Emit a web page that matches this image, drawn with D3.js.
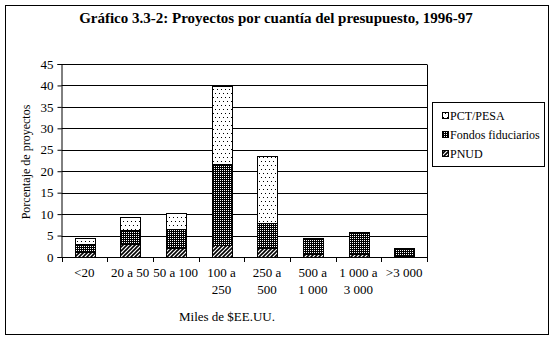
<!DOCTYPE html>
<html><head><meta charset="utf-8">
<script src="https://cdn.jsdelivr.net/npm/d3@7"></script>
<style>body{margin:0;background:#fff}svg{display:block}</style>
</head><body>
<script>
const categories = ["<20","20 a 50","50 a 100","100 a 250","250 a 500","500 a 1 000","1 000 a 3 000",">3 000"];
const categoryLines = [["<20"],["20 a 50"],["50 a 100"],["100 a","250"],["250 a","500"],["500 a","1 000"],["1 000 a","3 000"],[">3 000"]];
const seriesNames = ["PNUD","Fondos fiduciarios","PCT/PESA"];
const pnud = [1.2, 3.1, 2.2, 2.9, 2.0, 0.8, 0.8, 0.2];
const fondos = [1.8, 3.2, 4.3, 18.8, 6.0, 3.7, 5.1, 2.0];
const pctPesa = [1.4, 3.0, 3.7, 18.2, 15.6, 0, 0, 0];
const yTicks = [0,5,10,15,20,25,30,35,40,45];
const title = "Gráfico 3.3-2: Proyectos por cuantía del presupuesto, 1996-97";
const yLabel = "Porcentaje de proyectos";
const xLabel = "Miles de $EE.UU.";

const FONT = '"Liberation Serif", "Times New Roman", serif';
const W = 554, H = 340;
const svg = d3.select("body").append("svg").attr("width", W).attr("height", H);
const defs = svg.append("defs");
const pDots = defs.append("pattern").attr("id","pDots").attr("patternUnits","userSpaceOnUse").attr("width",4).attr("height",8);
pDots.append("rect").attr("width",4).attr("height",8).attr("fill","#fff");
pDots.append("rect").attr("x",1).attr("y",1).attr("width",1).attr("height",1).attr("fill","#000");
pDots.append("rect").attr("x",3).attr("y",5).attr("width",1).attr("height",1).attr("fill","#000");
const pDense = defs.append("pattern").attr("id","pDense").attr("patternUnits","userSpaceOnUse").attr("width",2).attr("height",2);
pDense.append("rect").attr("width",2).attr("height",2).attr("fill","#000");
pDense.append("rect").attr("width",1).attr("height",1).attr("fill","#fff");
const pHatch = defs.append("pattern").attr("id","pHatch").attr("patternUnits","userSpaceOnUse").attr("width",4).attr("height",4);
pHatch.append("rect").attr("width",4).attr("height",4).attr("fill","#fff");
pHatch.append("path").attr("d","M-1,1 l2,-2 M0,4 l4,-4 M3,5 l2,-2").attr("stroke","#000").attr("stroke-width",1.6);
const fills = {"PNUD":"url(#pHatch)","Fondos fiduciarios":"url(#pDense)","PCT/PESA":"url(#pDots)"};

function txt(sel, size, bold){
  return sel.style("font-family",FONT).style("font-size",size+"px").style("font-weight",bold?"bold":"normal").attr("fill","#000");
}

svg.append("rect").attr("x",5.5).attr("y",5.5).attr("width",543).attr("height",329).attr("fill","#fff").attr("stroke","#000").attr("stroke-width",1);

txt(svg.append("text").attr("x",276).attr("y",23).attr("text-anchor","middle"),15,true).text(title);

const x = d3.scaleBand().domain(categories).range([61.5,427]).paddingInner(0.57).paddingOuter(0.285);
const y = d3.scaleLinear().domain([0,45]).range([257,64]);

const g = svg.append("g");
g.selectAll("line.grid").data(yTicks).join("line").attr("class","grid")
  .attr("x1",61.5).attr("x2",427).attr("y1",d=>Math.round(y(d))+0.5).attr("y2",d=>Math.round(y(d))+0.5).attr("stroke","#000");
g.append("line").attr("x1",427.5).attr("x2",427.5).attr("y1",Math.round(y(45))+0.5).attr("y2",Math.round(y(0))+0.5).attr("stroke","#000");

const yAxis = d3.axisLeft(y).tickValues(yTicks).tickSize(4).tickPadding(4);
const ya = svg.append("g").attr("transform","translate(61.5,0)").call(yAxis);
ya.select(".domain").attr("stroke","#000");
ya.selectAll("line").attr("stroke","#000");
txt(ya.selectAll("text"),13,false);

const step = x.step();
const bounds = d3.range(categories.length+1).map(i => 61.5 + i*step);
svg.selectAll("line.xt").data(bounds).join("line").attr("class","xt")
  .attr("x1",d=>Math.round(d)+0.5).attr("x2",d=>Math.round(d)+0.5).attr("y1",257).attr("y2",262).attr("stroke","#000");

const table = categories.map((c,i)=>({cat:c, "PNUD":pnud[i], "Fondos fiduciarios":fondos[i], "PCT/PESA":pctPesa[i]}));
const stack = d3.stack().keys(seriesNames)(table);
stack.forEach(s=>{
  svg.append("g").selectAll("rect").data(s.filter(d=>d[1]-d[0]>0)).join("rect")
    .attr("x",d=>Math.round(x(d.data.cat))+0.5)
    .attr("width",Math.round(x.bandwidth()))
    .attr("y",d=>Math.round(y(d[1]))+0.5)
    .attr("height",d=>Math.round(y(d[0]))-Math.round(y(d[1])))
    .attr("fill",fills[s.key]).attr("stroke","#000").attr("stroke-width",1);
});
svg.append("line").attr("x1",61.5).attr("x2",427).attr("y1",257.5).attr("y2",257.5).attr("stroke","#000");

categoryLines.forEach((lines,i)=>{
  const cx = x(categories[i]) + x.bandwidth()/2;
  lines.forEach((t,j)=>{
    txt(svg.append("text").attr("x",cx).attr("y",277+j*16.5).attr("text-anchor","middle"),13,false).text(t);
  });
});
txt(svg.append("text").attr("x",227).attr("y",321).attr("text-anchor","middle"),13,false).text(xLabel);
txt(svg.append("text").attr("transform","translate(30,162) rotate(-90)").attr("text-anchor","middle"),12,false).text(yLabel);

const lg = svg.append("g");
lg.append("rect").attr("x",432.5).attr("y",102.5).attr("width",112).attr("height",64).attr("fill","#fff").attr("stroke","#000");
const legendItems = ["PCT/PESA","Fondos fiduciarios","PNUD"];
legendItems.forEach((k,i)=>{
  const cy = 116 + i*19;
  lg.append("rect").attr("x",442.5).attr("y",cy-3.5).attr("width",6).attr("height",6).attr("fill",fills[k]).attr("stroke","#000");
  txt(lg.append("text").attr("x",450).attr("y",cy+4),12,false).text(k);
});
</script>
</body></html>
